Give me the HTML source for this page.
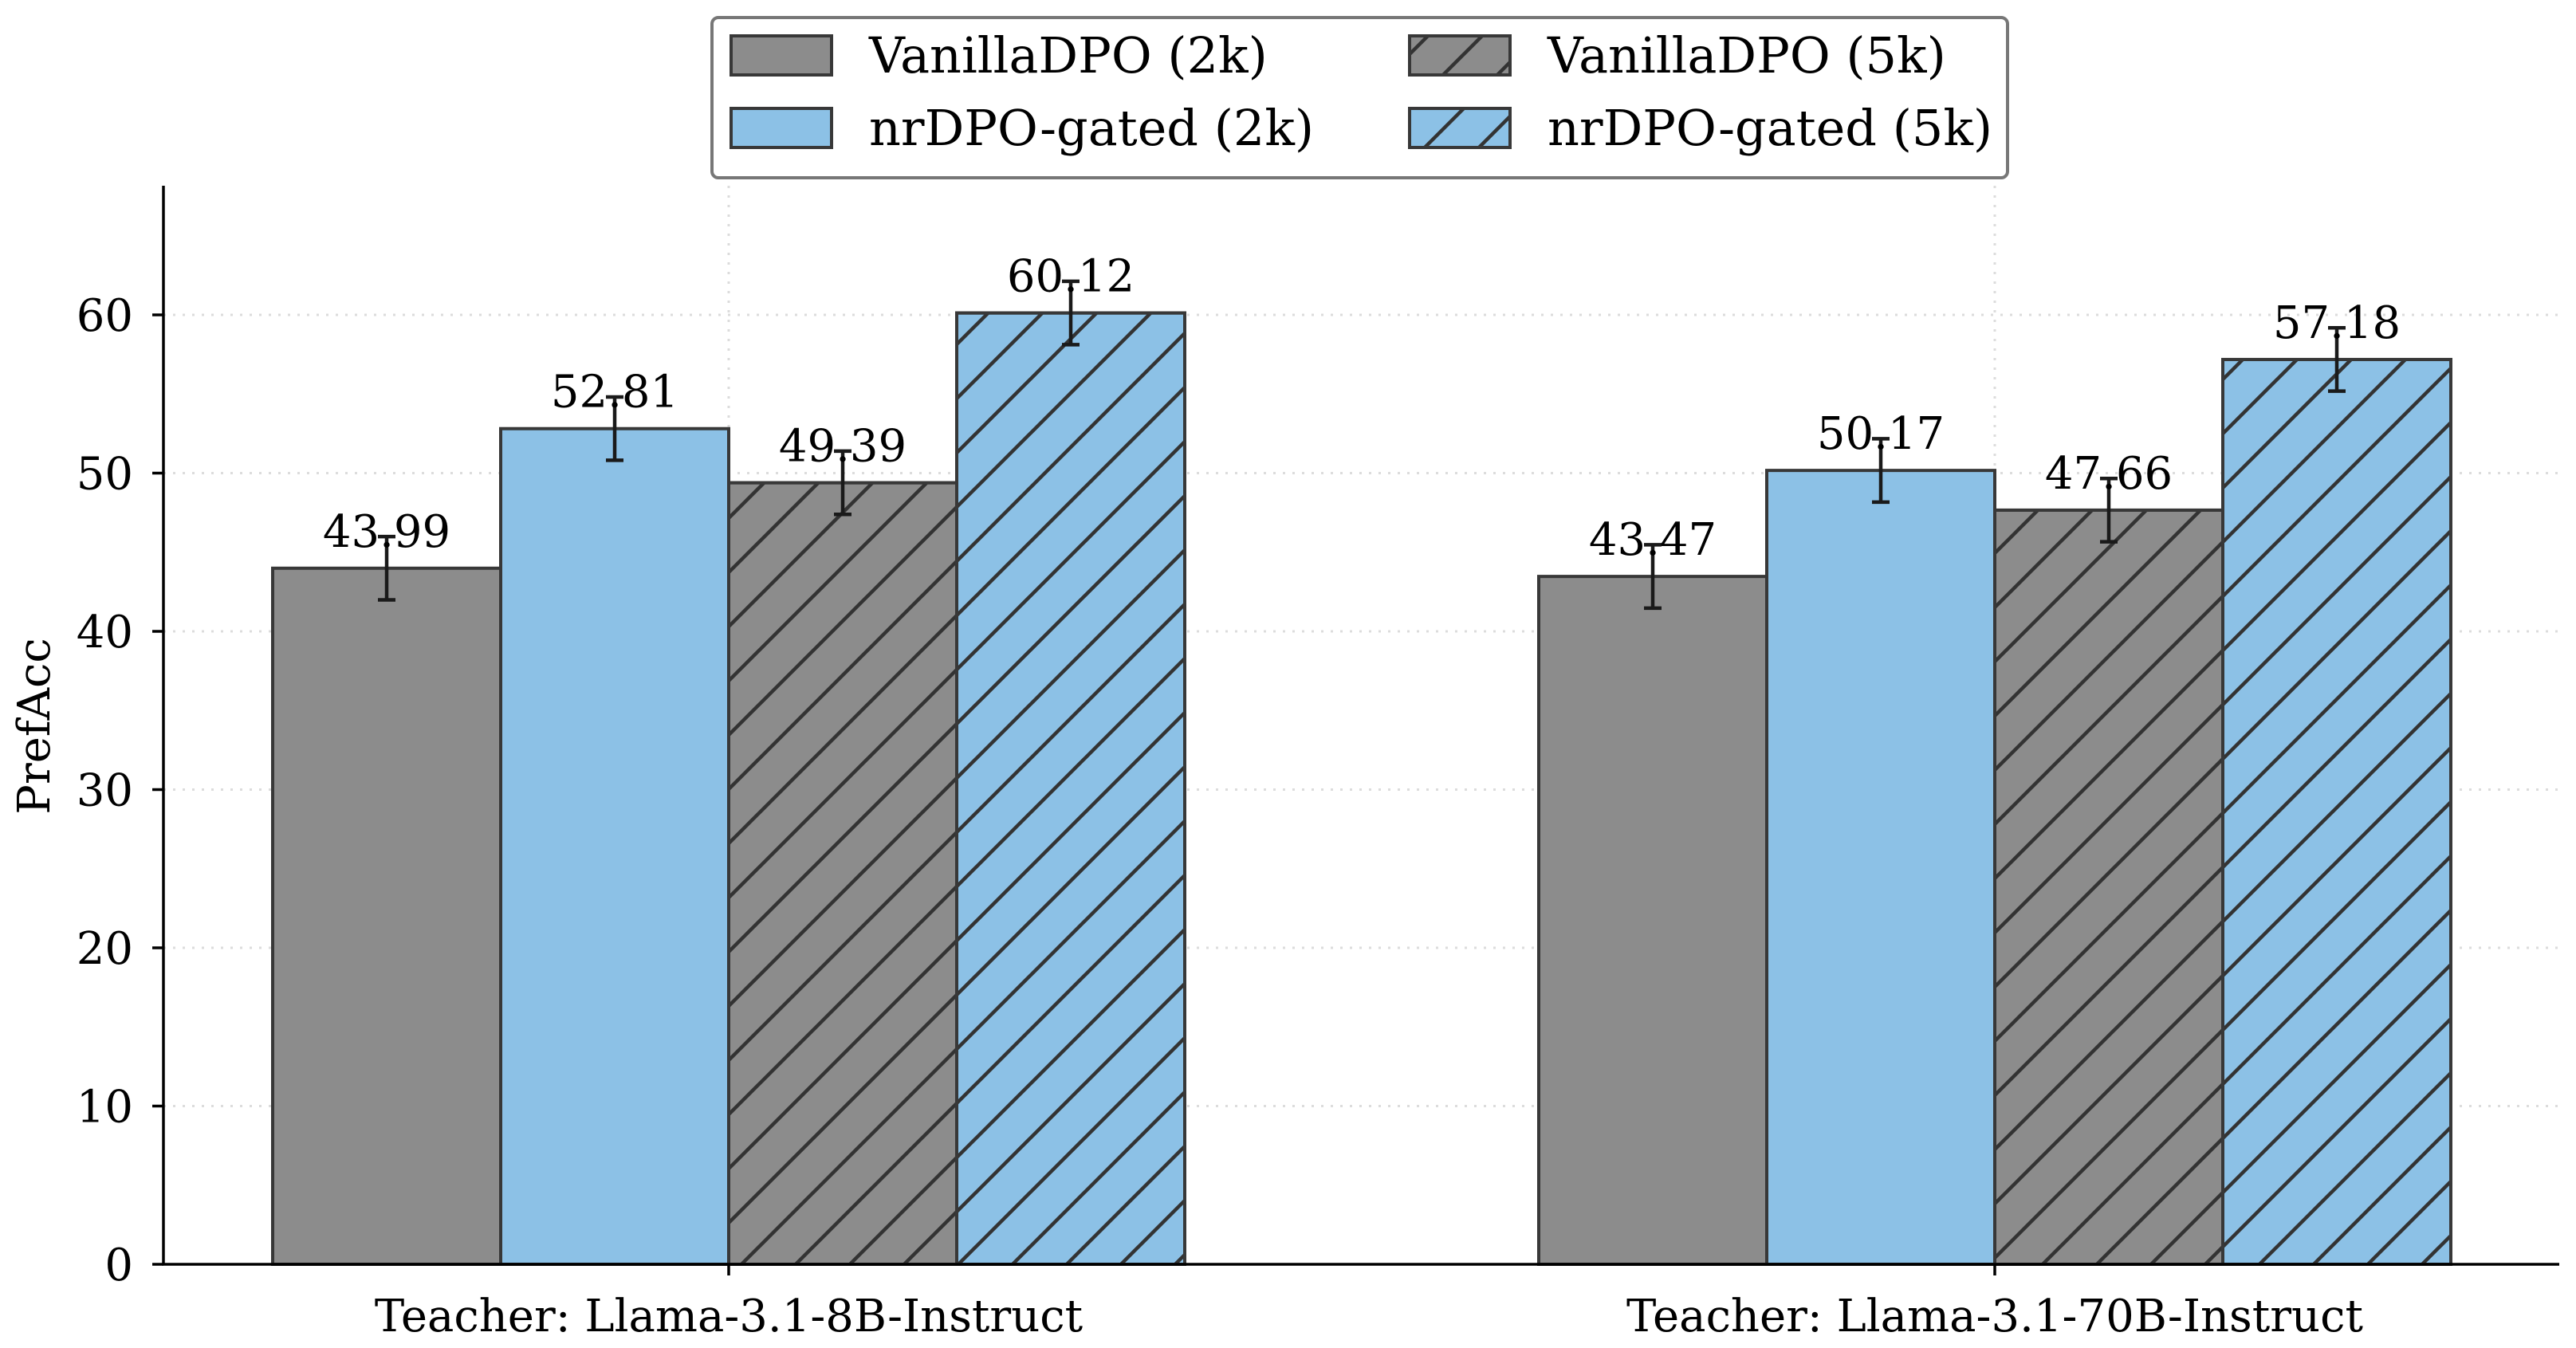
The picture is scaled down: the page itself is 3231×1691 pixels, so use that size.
<!DOCTYPE html>
<html><head><meta charset="utf-8"><style>
html,body{margin:0;padding:0;background:#fff;}
svg{display:block;font-family:"DejaVu Serif","Liberation Serif",serif;}
</style></head><body>
<svg id="chart" width="3231" height="1691" viewBox="0 0 3231 1691" xmlns="http://www.w3.org/2000/svg">
<defs>
<pattern id="hatch" patternUnits="userSpaceOnUse" width="68" height="68">
<path d="M-17,17 L17,-17 M0,68 L68,0 M51,85 L85,51" stroke="#333" stroke-width="4.5"/>
</pattern>
</defs>
<g id="grid"></g>
<g id="bars"></g>
<g id="axes"></g>
<g id="legend"></g>
</svg>
<script>
const categories = ["Teacher: Llama-3.1-8B-Instruct", "Teacher: Llama-3.1-70B-Instruct"];
const seriesNames = ["VanillaDPO (2k)", "nrDPO-gated (2k)", "VanillaDPO (5k)", "nrDPO-gated (5k)"];
const vanilla2k = [43.99, 43.47];
const nrdpo2k = [52.81, 50.17];
const vanilla5k = [49.39, 47.66];
const nrdpo5k = [60.12, 57.18];
const errors2 = [[2.0, 2.0], [2.0, 2.0], [2.0, 2.0], [2.0, 2.0]];
const yTicks = [0, 10, 20, 30, 40, 50, 60];

const NS = "http://www.w3.org/2000/svg";
const X0 = 205, X1 = 3210, Y0 = 1586, PXU = 19.85;
const groupCenters = [914, 2502];
const barW = 286;
function yPos(v){ return Y0 - v * PXU; }
function xPos(ci, si){ return groupCenters[ci] - 2 * barW + si * barW; }
function mk(tag, attrs, parent){ const e = document.createElementNS(NS, tag); for (const k in attrs) e.setAttribute(k, attrs[k]); parent.appendChild(e); return e; }

const grid = document.getElementById("grid");
const bars = document.getElementById("bars");
const axes = document.getElementById("axes");
const legend = document.getElementById("legend");
const series = [vanilla2k, nrdpo2k, vanilla5k, nrdpo5k];
const fills = ["#8c8c8c", "#8cc1e6", "#8c8c8c", "#8cc1e6"];
const hatched = [false, false, true, true];
const FS = 56;
const LFS = 62;

yTicks.forEach(t => {
  if (t > 0) {
    const g = mk("line", {x1: X0, x2: X1, y1: yPos(t), y2: yPos(t), stroke: "#dcdcdc", "stroke-width": 3, "stroke-dasharray": "3 9"}, grid);
    
    
  }
  const tk = mk("line", {x1: X0 - 14, x2: X0, y1: yPos(t), y2: yPos(t), stroke: "#000", "stroke-width": 3.5}, axes);
  
  
  const tl = mk("text", {x: X0 - 38, y: yPos(t) + 20, "text-anchor": "end", "font-size": FS, fill: "#000"}, axes);
  tl.textContent = t;
  
  
});
groupCenters.forEach(cx => {
  const g = mk("line", {x1: cx, x2: cx, y1: 233, y2: Y0, stroke: "#dcdcdc", "stroke-width": 3, "stroke-dasharray": "3 9"}, grid);
  
  
});

categories.forEach((c, ci) => {
  series.forEach((s, si) => {
    const v = s[ci];
    const x = xPos(ci, si), y = yPos(v);
    const r = mk("rect", {x: x, y: y, width: barW, height: Y0 - y, fill: fills[si], stroke: "#383838", "stroke-width": 4}, bars);
    
    
    if (hatched[si]) {
      const h = mk("rect", {x: x, y: y, width: barW, height: Y0 - y, fill: "url(#hatch)", stroke: "#383838", "stroke-width": 4}, bars);
      
      
    }
    const cx = x + barW / 2, e = errors2[si][ci];
    const eb = mk("path", {d: `M${cx},${yPos(v+e)} L${cx},${yPos(v-e)} M${cx-11},${yPos(v+e)} L${cx+11},${yPos(v+e)} M${cx-11},${yPos(v-e)} L${cx+11},${yPos(v-e)}`, stroke: "#1a1a1a", "stroke-width": 4.5, fill: "none"}, bars);
    
    
    const lbl = mk("text", {x: cx, y: y - 27, "text-anchor": "middle", "font-size": FS, fill: "#000"}, bars);
    lbl.textContent = v.toFixed(2);
    
    
  });
  const tk = mk("line", {x1: groupCenters[ci], x2: groupCenters[ci], y1: Y0, y2: Y0 + 14, stroke: "#000", "stroke-width": 3.5}, axes);
  
  
  const xl = mk("text", {x: groupCenters[ci], y: 1670, "text-anchor": "middle", "font-size": FS, fill: "#000"}, axes);
  xl.textContent = c;
  
  
});

const sp = mk("path", {d: `M${X0},233 L${X0},${Y0} L${X1},${Y0}`, stroke: "#000", "stroke-width": 3.5, fill: "none"}, axes);


const yt = mk("text", {x: 0, y: 0, "text-anchor": "middle", "font-size": FS, fill: "#000", transform: "translate(62,911) rotate(-90)"}, axes);
yt.textContent = "PrefAcc";



const lb = mk("rect", {x: 893, y: 22, width: 1625, height: 201, rx: 8, fill: "#fff", stroke: "#777", "stroke-width": 4}, legend);


const lpos = [[917, 45], [917, 136], [1768, 45], [1768, 136]];
seriesNames.forEach((n, si) => {
  const [lx, ly] = lpos[si];
  const p = mk("rect", {x: lx, y: ly, width: 126, height: 49, fill: fills[si], stroke: "#383838", "stroke-width": 4}, legend);
  
  
  if (hatched[si]) {
    const h = mk("rect", {x: lx, y: ly, width: 126, height: 49, fill: "url(#hatch)", stroke: "#383838", "stroke-width": 4}, legend);
    
    
  }
  const t = mk("text", {x: lx + 173, y: ly + 46, "font-size": LFS, fill: "#000"}, legend);
  t.textContent = n;
  
  
});
</script>
</body></html>
